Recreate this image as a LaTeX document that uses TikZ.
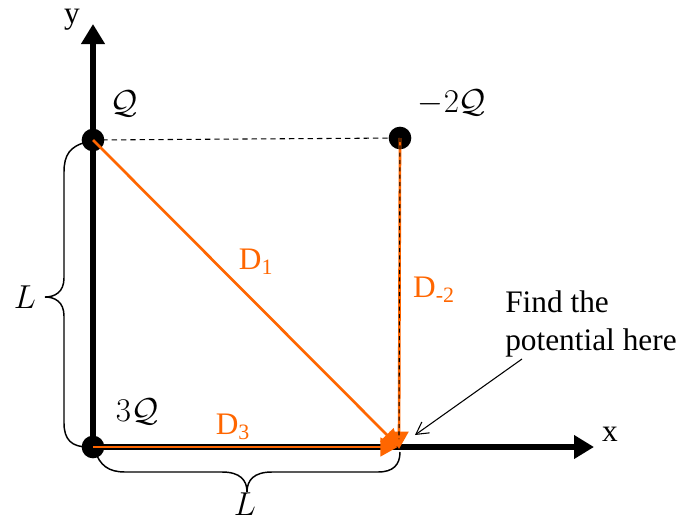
\documentclass[tikz,border=0pt]{standalone}
\usepackage{fontspec}
\setmainfont{Liberation Serif}
\usetikzlibrary{arrows.meta}
\definecolor{dor}{RGB}{255,102,0}
\begin{document}
\begin{tikzpicture}[x=0.75pt,y=-0.75pt,
  charge/.style={circle,fill=black,inner sep=0pt,minimum size=17pt},
  axis/.style={line width=4.5pt,-{Triangle[length=15pt,width=17pt]}},
  dist/.style={draw=dor,line width=2pt,-{Triangle[length=13pt,width=14pt]}},
  lbl/.style={font=\fontsize{23.5}{29}\selectfont},
  olbl/.style={lbl,text=dor},
  brace/.style={line width=1.1pt}]
\useasboundingbox (0,0) rectangle (682,521);
% axes
\coordinate (O) at (93,447);
\coordinate (ytip) at (93,24);
\coordinate (xtip) at (594,447);
\draw[axis] (O) -- (ytip);
\draw[axis] (O) -- (xtip);
\node[lbl,anchor=center] (ylab) at (72,20) {y};
\node[lbl,anchor=center] (xlab) at (610,434) {x};
% charges
\node[charge] (q1) at (93,140) {};
\node[charge] (q2) at (400,138) {};
\node[charge] (q3) at (93,447) {};
\coordinate (P) at (399,447);
\node[lbl] (lq1) at (124,104) {$\mathcal{Q}$};
\node[lbl] (lq2) at (452,103) {$-2\mathcal{Q}$};
\node[lbl] (lq3) at (137,412) {$3\mathcal{Q}$};
% dashed top line
\draw[line width=0.8pt,dash pattern=on 4pt off 3pt] (q1.center) -- (q2.center);
% distances
\draw[dist] (q1.center) -- (P);
\draw[dist,shorten >=1pt] (q3.center) -- (P);
\draw[dist] (q2.center) -- ([yshift=-1.5pt]P);
\draw[line width=0.8pt,dash pattern=on 3pt off 2.5pt] (q2.center) -- ([yshift=6]P);
\node[olbl] (d1) at (256,262) {D\textsubscript{1}};
\node[olbl] (d2) at (434,290) {D\textsubscript{-2}};
\node[olbl] (d3) at (233,427) {D\textsubscript{3}};
% braces
\draw[brace] (q1.center) ++(-6,2)
  .. controls (70,146) and (64,155) .. (64,172)
  -- (64,278)
  .. controls (64,292) and (55,297) .. (45,297)
  .. controls (55,297) and (64,302) .. (64,316)
  -- (64,423)
  .. controls (64,440) and (72,447) .. (88,447);
\node[lbl] (lL) at (25,297) {$L$};
\draw[brace] (95,451)
  .. controls (100,465) and (108,472) .. (125,472)
  -- (222,472)
  .. controls (240,472) and (247,480) .. (247,492)
  .. controls (247,480) and (254,472) .. (272,472)
  -- (378,472)
  .. controls (393,472) and (400,465) .. (400,452);
\node[lbl,inner sep=0pt] (lL2) at (245,504) {$L$};
% pointer
\coordinate (ptrstart) at (522,359);
\draw[line width=0.8pt,-{Straight Barb[length=9pt,width=10pt,line width=0.8pt]}] (ptrstart) -- (415,435);
\node[lbl,align=left,anchor=north west,inner sep=0pt] (find) at (505,290) {Find the\\potential here};
\end{tikzpicture}
\end{document}
